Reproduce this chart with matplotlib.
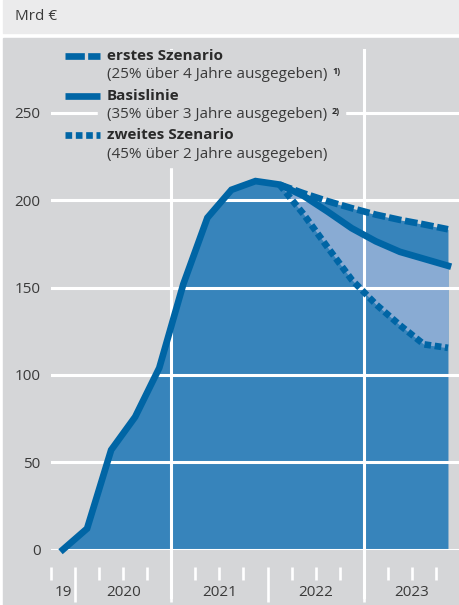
import numpy as np
import matplotlib
matplotlib.use("Agg")
import matplotlib.pyplot as plt
from matplotlib.patches import Rectangle
from matplotlib.lines import Line2D
import matplotlib.transforms as mtransforms

plt.rcParams['font.family'] = ['Open Sans', 'DejaVu Sans']

# quarterly values, Q4 2019 .. Q4 2023 (Mrd EUR)
quarters = ['2019Q4',
            '2020Q1', '2020Q2', '2020Q3', '2020Q4',
            '2021Q1', '2021Q2', '2021Q3', '2021Q4',
            '2022Q1', '2022Q2', '2022Q3', '2022Q4',
            '2023Q1', '2023Q2', '2023Q3', '2023Q4']
basis = [0, 12, 57, 76, 104, 152, 190, 206, 211,
         209, 202.5, 193.5, 184, 176.5, 170.5, 166.5, 162.5]
# scenarios start at 2022Q1
scen_start = 9
erstes = [209, 204, 199.5, 195.5, 191.8, 188.8, 186.2, 183.4]
zweites = [209, 192, 173, 154.5, 140.5, 128.5, 117.5, 115.5]

year_labels = ['19', '2020', '2021', '2022', '2023']
year_label_pos = [-0.5, 2, 6, 10, 14]
yticks = [0, 50, 100, 150, 200, 250]

c_line = '#0065a5'
c_dark = '#3784bb'
c_light = '#89abd3'
c_panel = '#d5d6d8'
c_head = '#ebebec'
c_text = '#3a3a3a'

W, H = 460, 605
def fx(p): return p / W
def fy(p): return 1 - p / H

fig = plt.figure(figsize=(4.6, 6.05), dpi=100, facecolor='white')
fig.patches.append(Rectangle((fx(3.5), fy(33)), 1, 33 / H, transform=fig.transFigure,
                             color=c_head, zorder=-10))
fig.patches.append(Rectangle((fx(3.5), 0), 1, fy(37.5), transform=fig.transFigure,
                             color=c_panel, zorder=-10))
fig.text(fx(15), fy(17), 'Mrd €', fontsize=11, color=c_text, va='center', ha='left')

ax = fig.add_axes([fx(51), fy(549.5), 1 - fx(51), (549.5 - 50) / H])
ax.set_facecolor('none')
for s in ax.spines.values():
    s.set_visible(False)

x = np.arange(len(quarters)) - 0.5
xs = x[scen_start:]
upper = np.array(basis, dtype=float)
upper[scen_start:] = erstes

ax.fill_between(x, 0, upper, color=c_dark, lw=0, zorder=1)
ax.fill_between(xs, zweites, basis[scen_start:], color=c_light, lw=0, zorder=1.1)

lw = 4.8
ax.plot(x, basis, color=c_line, lw=lw, solid_joinstyle='miter', zorder=3, clip_on=False)
ax.plot(xs, erstes, color=c_line, lw=lw, dashes=(1.9, 0.55), dash_capstyle='butt', zorder=3)
ax.plot(xs, zweites, color=c_line, lw=lw, dashes=(1.0, 0.55), dash_capstyle='butt', zorder=3)

ax.set_xlim(-1, 16)
ax.set_ylim(0, (549.5 - 50) / 1.746)
ax.set_yticks(yticks)
ax.set_axisbelow('line')
ax.grid(axis='y', color='white', lw=2.2)
ax.tick_params(axis='y', length=0, pad=7.5, labelsize=11, labelcolor=c_text)

# quarter ticks below the axis
ax.spines['bottom'].set_position(('outward', 12.5))
ax.set_xticks([0, 4, 8, 12, 16])
ax.set_xticks(np.arange(-1, 16), minor=True)
ax.tick_params(axis='x', which='major', length=25.5, width=1.9, color='white',
               labelbottom=False)
ax.tick_params(axis='x', which='minor', length=9.4, width=1.9, color='white')

# year separators drawn through the plot
trans = mtransforms.blended_transform_factory(ax.transData, ax.transAxes)
for q in [4, 12]:
    ax.plot([q, q], [-(597 - 549.5) / 499.5, 1], color='white', lw=2.2,
            transform=trans, clip_on=False, zorder=1.5)

for lab, pos in zip(year_labels, year_label_pos):
    ax.text(pos, -(592 - 549.5) / 499.5, lab, transform=trans, ha='center',
            va='center', fontsize=11, color=c_text)

# legend
ax.add_patch(Rectangle((fx(98), fy(167)), fx(345) - fx(98), (167 - 42) / H,
                       transform=fig.transFigure, color=c_panel, zorder=1.7))
leg = [('erstes Szenario', '(25% über 4 Jahre ausgegeben)', '1)', (2.9, 0.5), 56),
       ('Basislinie', '(35% über 3 Jahre ausgegeben)', '2)', None, 96),
       ('zweites Szenario', '(45% über 2 Jahre ausgegeben)', None, (1.0, 0.55), 135)]
for title, sub, note, dash, yy in leg:
    ln = Line2D([fx(65), fx(100)], [fy(yy), fy(yy)], transform=fig.transFigure,
                color=c_line, lw=lw, solid_capstyle='butt', dash_capstyle='butt')
    if dash:
        ln.set_dashes(dash)
    fig.add_artist(ln)
    fig.text(fx(107), fy(yy), title, fontsize=11, fontweight='bold', color='#2a2a2a',
             va='center', ha='left')
    fig.text(fx(107), fy(yy + 19), sub, fontsize=11, color=c_text, va='center', ha='left')
    if note:
        fig.text(fx(332), fy(yy + 15), note, fontsize=6.5, fontweight='bold',
                 color='#2a2a2a', va='center', ha='left')

fig.savefig('out.png', dpi=100)
